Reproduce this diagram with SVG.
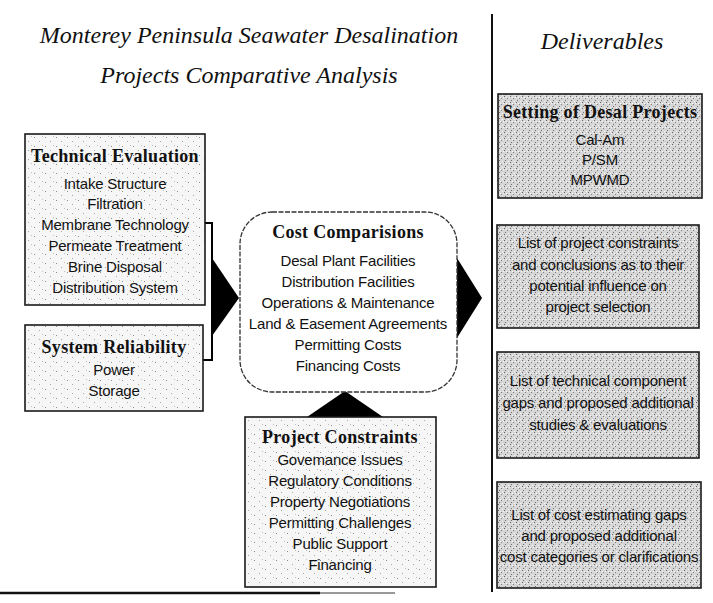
<svg xmlns="http://www.w3.org/2000/svg" width="713" height="603" viewBox="0 0 713 603">
<defs>
<pattern id="speckL" width="11" height="9" patternUnits="userSpaceOnUse">
<rect width="11" height="9" fill="#f6f6f6"/>
<rect x="1" y="2" width="1" height="1" fill="#8a8a8a"/>
<rect x="6" y="6" width="1" height="1" fill="#a8a8a8"/>
<rect x="9" y="1" width="1" height="1" fill="#c0c0c0"/>
</pattern>
<pattern id="speckD" width="6" height="6" patternUnits="userSpaceOnUse">
<rect width="6" height="6" fill="#d6d6d6"/>
<rect x="0" y="0" width="1" height="1" fill="#666"/>
<rect x="3" y="2" width="1" height="1" fill="#808080"/>
<rect x="1" y="4" width="1" height="1" fill="#707070"/>
<rect x="4" y="5" width="1" height="1" fill="#f8f8f8"/>
<rect x="5" y="1" width="1" height="1" fill="#f4f4f4"/>
<rect x="2" y="1" width="1" height="1" fill="#fafafa"/>
</pattern>
<style>
.title{font-family:"Liberation Serif",serif;font-style:italic;font-size:24px;fill:#111;text-anchor:middle}
.hd{font-family:"Liberation Serif",serif;font-weight:bold;font-size:18px;letter-spacing:0.3px;fill:#111;text-anchor:middle}
.it{font-family:"Liberation Sans",Arial,sans-serif;font-size:15px;letter-spacing:-0.2px;fill:#111;text-anchor:middle}
.boxL{fill:url(#speckL);stroke:#1a1a1a;stroke-width:1.6}
.boxD{fill:url(#speckD);stroke:#1a1a1a;stroke-width:1.6}
.cost{fill:#ffffff;stroke:#333;stroke-width:1.3;stroke-dasharray:5 1.5}
.arrow{fill:#000}
.link{fill:none;stroke:#000;stroke-width:2}
</style>
</defs>
<rect width="713" height="603" fill="#ffffff"/>

<g id="titles">
<text class="title" x="249" y="43">Monterey Peninsula Seawater Desalination</text>
<text class="title" x="249" y="83">Projects Comparative Analysis</text>
<text class="title" x="602" y="49">Deliverables</text>
</g>

<g id="dividers">
<line x1="492" y1="14" x2="492" y2="592" stroke="#111" stroke-width="2"/>
<line x1="0" y1="593" x2="320" y2="593" stroke="#111" stroke-width="2.5"/>
<line x1="320" y1="593" x2="395" y2="593" stroke="#999" stroke-width="2"/>
</g>

<g id="connectors">
<polyline class="link" points="205,223 212,223 212,360 203,360"/>
<polygon class="arrow" points="212,258 239,298 212,336"/>
<polygon class="arrow" points="457,258 482,298 457,338"/>
<polygon class="arrow" points="345,391 307,417 383,417"/>
</g>

<g id="technical-evaluation">
<rect class="boxL" x="25" y="134" width="180" height="171"/>
<text class="hd" x="115" y="162">Technical Evaluation</text>
<text class="it" x="115" y="189">Intake Structure</text>
<text class="it" x="115" y="209">Filtration</text>
<text class="it" x="115" y="230">Membrane Technology</text>
<text class="it" x="115" y="251">Permeate Treatment</text>
<text class="it" x="115" y="272">Brine Disposal</text>
<text class="it" x="115" y="293">Distribution System</text>
</g>

<g id="system-reliability">
<rect class="boxL" x="25" y="325" width="178" height="86"/>
<text class="hd" x="114" y="353">System Reliability</text>
<text class="it" x="114" y="375">Power</text>
<text class="it" x="114" y="396">Storage</text>
</g>

<g id="cost-comparisons">
<rect class="cost" x="240" y="212" width="217" height="180" rx="32" ry="32"/>
<text class="hd" x="348" y="238">Cost Comparisions</text>
<text class="it" x="348" y="266">Desal Plant Facilities</text>
<text class="it" x="348" y="287">Distribution Facilities</text>
<text class="it" x="348" y="308">Operations &amp; Maintenance</text>
<text class="it" x="348" y="329">Land &amp; Easement Agreements</text>
<text class="it" x="348" y="350">Permitting Costs</text>
<text class="it" x="348" y="371">Financing Costs</text>
</g>

<g id="project-constraints">
<rect class="boxL" x="245" y="417" width="191" height="170"/>
<text class="hd" x="340" y="443">Project Constraints</text>
<text class="it" x="340" y="465">Govemance Issues</text>
<text class="it" x="340" y="486">Regulatory Conditions</text>
<text class="it" x="340" y="507">Property Negotiations</text>
<text class="it" x="340" y="528">Permitting Challenges</text>
<text class="it" x="340" y="549">Public Support</text>
<text class="it" x="340" y="570">Financing</text>
</g>

<g id="setting-of-desal-projects">
<rect class="boxD" x="498" y="94" width="204" height="104"/>
<text class="hd" x="600" y="118">Setting of Desal Projects</text>
<text class="it" x="600" y="145">Cal-Am</text>
<text class="it" x="600" y="165">P/SM</text>
<text class="it" x="600" y="185">MPWMD</text>
</g>

<g id="project-constraints-list">
<rect class="boxD" x="497" y="225" width="202" height="103"/>
<text class="it" x="598" y="248">List of project constraints</text>
<text class="it" x="598" y="270">and conclusions as to their</text>
<text class="it" x="598" y="291">potential influence on</text>
<text class="it" x="598" y="312">project selection</text>
</g>

<g id="technical-gaps">
<rect class="boxD" x="497" y="352" width="202" height="106"/>
<text class="it" x="598" y="386">List of technical component</text>
<text class="it" x="598" y="408">gaps and proposed additional</text>
<text class="it" x="598" y="430">studies &amp; evaluations</text>
</g>

<g id="cost-gaps">
<rect class="boxD" x="497" y="482" width="204" height="106"/>
<text class="it" x="599" y="520">List of cost estimating gaps</text>
<text class="it" x="599" y="541">and proposed additional</text>
<text class="it" x="599" y="562">cost categories or clarifications</text>
</g>
</svg>
